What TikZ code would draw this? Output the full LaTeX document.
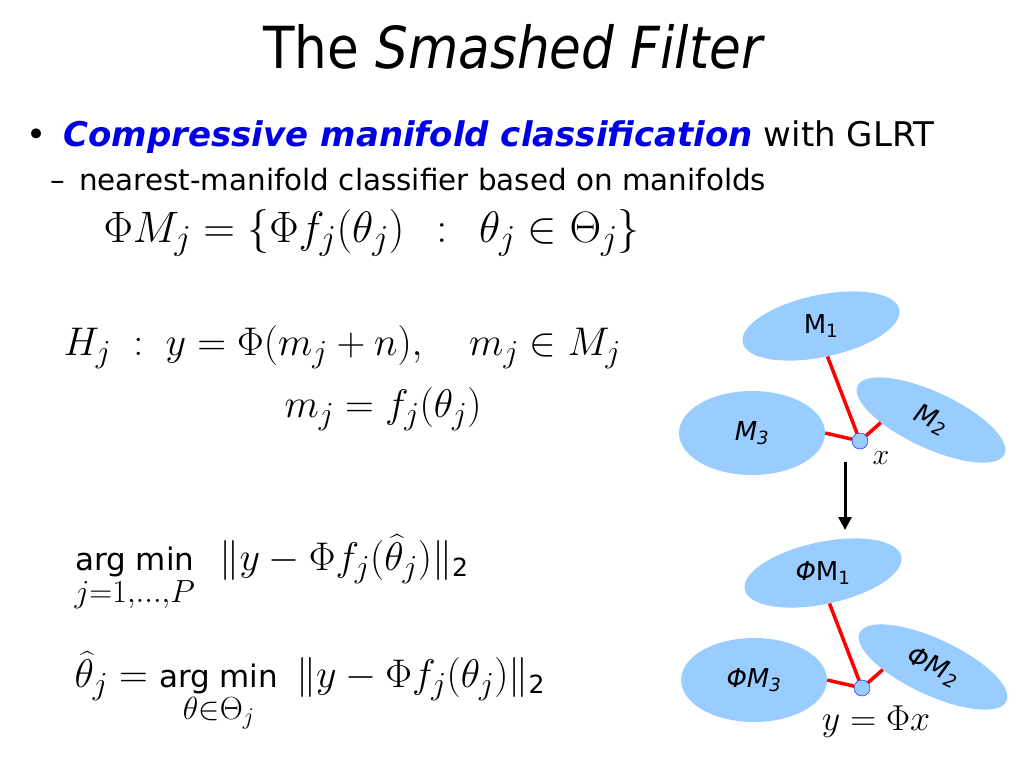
\RequirePackage{fix-cm}
\documentclass[tikz,border=0pt]{standalone}
\usepackage{amsmath}
\usepackage[no-math]{fontspec}
\setmainfont{DejaVu Sans}
\usepackage{graphicx}
\usetikzlibrary{positioning,shapes.geometric,arrows.meta}

\DeclareMathSizes{40}{40}{32}{24}
\DeclareMathSizes{44}{44}{35}{26}
\definecolor{manifold}{RGB}{153,204,255}
\definecolor{keyblue}{RGB}{0,0,230}
\newcommand{\argmintext}{\text{\fontsize{31}{36}\selectfont arg min}}
\newcommand{\normtwo}{\text{\fontsize{25}{30}\selectfont 2}}

\begin{document}
\begin{tikzpicture}[x=1pt,y=-1pt,
	mfold/.style={ellipse,fill=manifold,inner sep=0pt},
	mlabel/.style={font=\fontsize{26}{31}\selectfont},
	redline/.style={red,line width=3.5pt},
	dot/.style={circle,fill=manifold,draw=blue,thin,minimum size=16pt,inner sep=0pt},
	formula/.style={anchor=base west,font=\fontsize{40}{48}\selectfont}]

	\useasboundingbox[fill=white] (0,0) rectangle (1024,768);

	% title and bullets
	\node[anchor=base,font=\fontsize{58}{66}\selectfont] (title) at (514,68) {\scalebox{0.89}[1]{The \textit{Smashed Filter}}};
	\node[anchor=base west,font=\fontsize{34}{40}\selectfont] (bullet) at (23,146) {\textbullet\hspace{17pt}\textcolor{keyblue}{\bfseries\itshape Compressive manifold classification} with GLRT};
	\node[anchor=base west,font=\fontsize{29.4}{35}\selectfont] (sub) at (47,190) {--\hspace{14pt}nearest-manifold classifier based on manifolds};

	% formulas
	\node[formula,font=\fontsize{44}{52}\selectfont] (phim) at (100,242) {$\Phi M_j = \{\Phi f_j(\theta_j)\;\,:\;\,\theta_j \in \Theta_j\}$};
	\node[formula] (hyp) at (60,355) {$H_j\;:\; y = \Phi(m_j + n), \quad m_j \in M_j$};
	\node[formula] (mj) at (281,417) {$m_j = f_j(\theta_j)$};
	\node[formula] (cls) at (71,570) {$\mathop{\argmintext}\limits_{j=1,\ldots,P}\;\,\|y - \Phi f_j(\widehat{\theta}_j)\|_{\normtwo}$};
	\node[formula] (est) at (71,687) {$\widehat{\theta}_j = \mathop{\argmintext}\limits_{\theta\in\Theta_j}\;\|y - \Phi f_j(\theta_j)\|_{\normtwo}$};

	% manifolds before projection
	\node[mfold,minimum width=160pt,minimum height=62pt,rotate=12] (m1) at (821,326) {};
	\node[mfold,minimum width=162pt,minimum height=56pt,rotate=-25] (m2) at (931,420) {};
	\node[mfold,minimum width=146pt,minimum height=84pt] (m3) at (752,433) {};
	\node[mlabel] (m1txt) at (m1) {M\textsubscript{1}};
	\node[mlabel,rotate=-25] (m2txt) at (m2) {\textit{M}\textsubscript{\textit{2}}};
	\node[mlabel] (m3txt) at (m3) {\textit{M}\textsubscript{\textit{3}}};
	\node[dot] (x) at (860,441) {};
	\draw[redline] (x) -- (m1.south);
	\draw[redline] (x) -- (m2.208);
	\draw[redline] (x) -- (m3.east);
	\node[font=\fontsize{30}{36}\selectfont] (xtxt) at (881,458) {$x$};

	% projection
	\coordinate (arrtop) at (845,462);
	\coordinate (arrbot) at (845,530);
	\draw[line width=3pt,-{Triangle[length=13pt,width=13pt]}] (arrtop) -- (arrbot);

	% manifolds after projection
	\node[mfold,minimum width=160pt,minimum height=62pt,rotate=12] (pm1) at (823,573) {};
	\node[mfold,minimum width=162pt,minimum height=56pt,rotate=-25] (pm2) at (933,667) {};
	\node[mfold,minimum width=146pt,minimum height=84pt] (pm3) at (754,680) {};
	\node[mlabel] (pm1txt) at (pm1) {\textit{Φ}M\textsubscript{1}};
	\node[mlabel,rotate=-25] (pm2txt) at (pm2) {\textit{ΦM}\textsubscript{\textit{2}}};
	\node[mlabel] (pm3txt) at (pm3) {\textit{ΦM}\textsubscript{\textit{3}}};
	\node[dot] (y) at (862,688) {};
	\draw[redline] (y) -- (pm1.south);
	\draw[redline] (y) -- (pm2.208);
	\draw[redline] (y) -- (pm3.east);
	\node[font=\fontsize{36}{42}\selectfont] (ytxt) at (876,722) {$y = \Phi x$};
\end{tikzpicture}
\end{document}
